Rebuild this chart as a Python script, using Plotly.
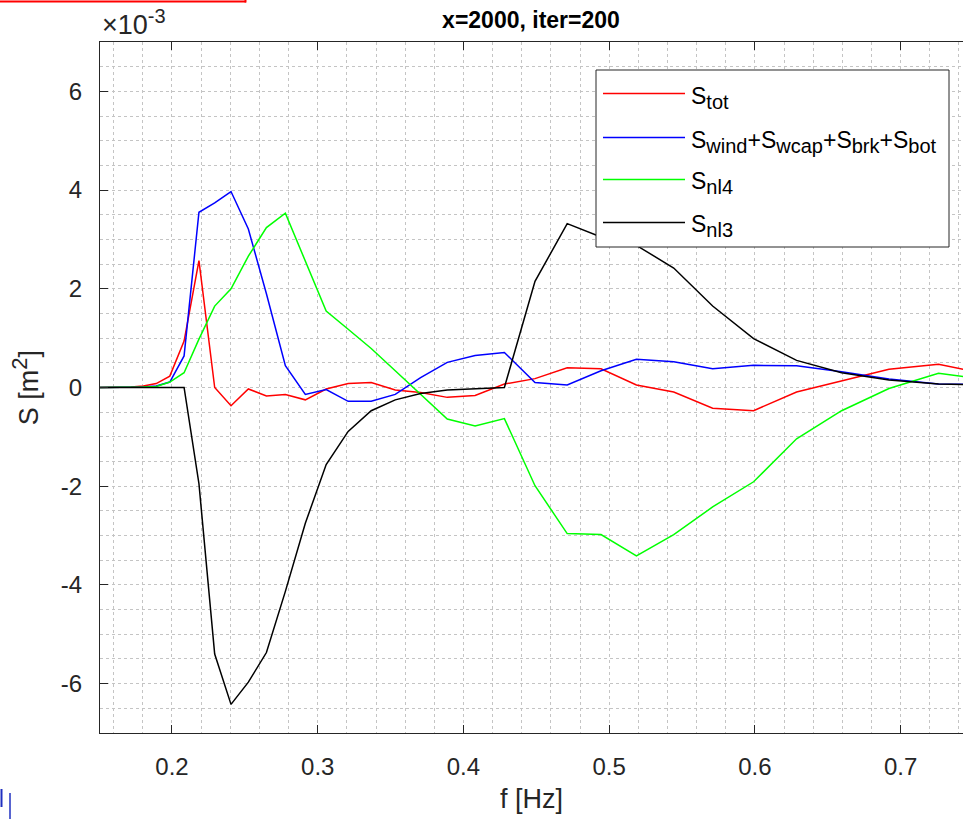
import plotly.graph_objects as go

# ---------------- data (values in units of 1e-3 m^2) ----------------
freq = [0.1488, 0.1561, 0.1638, 0.1719, 0.1803, 0.1892, 0.1985, 0.2083, 0.2185,
        0.2293, 0.2405, 0.2524, 0.2648, 0.2778, 0.2915, 0.3058, 0.3209, 0.3367,
        0.3532, 0.3706, 0.3889, 0.4080, 0.4281, 0.4491, 0.4712, 0.4944, 0.5187,
        0.5443, 0.5710, 0.5991, 0.6286, 0.6595, 0.6920, 0.7260, 0.7618]

s_tot = [0.0, 0.0, 0.0, 0.01, 0.03, 0.08, 0.23, 0.94, 2.57, 0.0, -0.37, -0.03,
         -0.17, -0.14, -0.25, -0.03, 0.08, 0.10, -0.05, -0.10, -0.20, -0.16, 0.07,
         0.18, 0.40, 0.38, 0.05, -0.09, -0.42, -0.47, -0.09, 0.13, 0.37, 0.47, 0.26]

s_src = [0.0, 0.0, 0.0, 0.0, 0.01, 0.03, 0.11, 0.64, 3.55, 3.74, 3.97, 3.21,
         1.90, 0.44, -0.14, -0.04, -0.28, -0.28, -0.14, 0.20, 0.51, 0.65, 0.71,
         0.10, 0.05, 0.34, 0.57, 0.52, 0.38, 0.45, 0.44, 0.32, 0.17, 0.07, 0.06]

s_nl4 = [0.0, 0.0, 0.0, 0.0, 0.01, 0.02, 0.11, 0.30, 0.98, 1.65, 2.00, 2.66,
         3.24, 3.53, 2.56, 1.55, 1.18, 0.79, 0.34, -0.13, -0.64, -0.78, -0.63,
         -1.99, -2.96, -2.98, -3.41, -2.98, -2.42, -1.91, -1.04, -0.47, -0.02,
         0.29, 0.15]

s_nl3 = [0.0, 0.0, 0.0, 0.0, 0.0, 0.0, 0.0, 0.0, -1.95, -5.40, -6.42, -5.97,
         -5.37, -4.13, -2.75, -1.56, -0.89, -0.47, -0.25, -0.12, -0.05, -0.02,
         0.0, 2.15, 3.32, 3.05, 2.88, 2.42, 1.65, 0.99, 0.55, 0.30, 0.15, 0.07, 0.05]

series_main = ["S", "S", "S", "S"]
series_subs = [["tot"], ["wind", "wcap", "brk", "bot"], ["nl4"], ["nl3"]]
series_colors = ["#ff0000", "#0000ff", "#00ff00", "#000000"]

x_ticks = [0.2, 0.3, 0.4, 0.5, 0.6, 0.7]
y_ticks = [-6, -4, -2, 0, 2, 4, 6]
y_scale = 1e-3

title_text = "x=2000, iter=200"
x_label = "f [Hz]"
y_label_main = "S [m"
y_label_sup = "2"

# ---------------- figure ----------------
W, H = 963, 820
L, R, T, B = 100, 0, 42, 87
FONT = "Liberation Sans, Arial, Helvetica, sans-serif"
AX = "#262626"
GRID = "#c4c4c4"


def px_x(p):
    return (p - L) / (W - L - R)


def px_y(p):
    return (H - B - p) / (H - T - B)


def sub(t, size):
    return "<sub><span style='font-size:%dpx'>%s</span></sub>" % (size, t)


def sup(t, size):
    return "<sup><span style='font-size:%dpx'>%s</span></sup>" % (size, t)


def legend_label(main, subs, size):
    return "+".join(main + sub(s, size) for s in subs)


fig = go.Figure()
for main, subs, col, vals in zip(series_main, series_subs, series_colors,
                                 [s_tot, s_src, s_nl4, s_nl3]):
    name = "+".join(main + "<sub>" + s + "</sub>" for s in subs)
    fig.add_trace(go.Scatter(
        x=freq, y=[v * y_scale for v in vals], mode="lines", name=name,
        showlegend=False, line=dict(color=col, width=1.5)))

fig.update_layout(
    width=W, height=H, autosize=False,
    margin=dict(l=L, r=R, t=T, b=B, pad=0),
    paper_bgcolor="white", plot_bgcolor="white",
    font=dict(family=FONT, color=AX, size=24),
    title=dict(text="<b>" + title_text + "</b>", x=px_x(531), xref="paper",
               xanchor="center", y=1 - 20 / H, yanchor="middle",
               font=dict(size=23, color="black")),
)

fig.update_xaxes(
    range=[0.1506, 0.7428], tickvals=x_ticks,
    ticktext=[str(v) for v in x_ticks],
    showline=True, linecolor=AX, linewidth=1, mirror="ticks",
    ticks="inside", ticklen=8, tickcolor=AX, tickwidth=1,
    showgrid=True, gridcolor=GRID, griddash="dot", gridwidth=1,
    minor=dict(dtick=0.02, tick0=0, showgrid=True, gridcolor=GRID,
               griddash="dot", gridwidth=1, ticks=""),
    zeroline=False, ticklabelstandoff=12,
    tickfont=dict(size=24, color=AX),
    title=dict(text=x_label, font=dict(size=27, color=AX), standoff=10),
)

fig.update_yaxes(
    range=[-7 * y_scale, 7 * y_scale],
    tickvals=[v * y_scale for v in y_ticks], ticktext=[str(v) for v in y_ticks],
    showline=True, linecolor=AX, linewidth=1, mirror=False,
    ticks="inside", ticklen=8, tickcolor=AX, tickwidth=1,
    showgrid=True, gridcolor=GRID, griddash="dot", gridwidth=1,
    minor=dict(dtick=0.5 * y_scale, tick0=0, showgrid=True, gridcolor=GRID,
               griddash="dot", gridwidth=1, ticks=""),
    zeroline=False, ticklabelstandoff=12,
    tickfont=dict(size=24, color=AX),
    title=dict(text=y_label_main + sup(y_label_sup, 22) + "]",
               font=dict(size=27, color=AX), standoff=14),
)

# exponent label
fig.add_annotation(text="\u00d710" + sup("-3", 20), xref="paper", yref="paper",
                   x=0, y=px_y(42), xanchor="left", yanchor="bottom",
                   showarrow=False, font=dict(size=27, color=AX))

# legend box (drawn manually, MATLAB-style long line samples)
fig.add_shape(type="rect", xref="paper", yref="paper",
              x0=px_x(596), x1=px_x(949), y0=px_y(70), y1=px_y(247),
              line=dict(color=AX, width=1), fillcolor="white", layer="above")
leg_y = [93.5, 137.5, 179.5, 222.5]
for main, subs, col, ly in zip(series_main, series_subs, series_colors, leg_y):
    fig.add_shape(type="line", xref="paper", yref="paper",
                  x0=px_x(603), x1=px_x(685), y0=px_y(ly), y1=px_y(ly),
                  line=dict(color=col, width=1.5), layer="above")
    fig.add_annotation(text=legend_label(main, subs, 20), xref="paper",
                       yref="paper", x=px_x(689), y=px_y(ly + 4),
                       xanchor="left", yanchor="middle", showarrow=False,
                       font=dict(size=23, color="black"))

# screenshot artefacts at the page edges
fig.add_shape(type="line", xref="paper", yref="paper", x0=px_x(0), x1=px_x(246),
              y0=px_y(1.5), y1=px_y(1.5), line=dict(color="#ff0000", width=2))
fig.add_shape(type="line", xref="paper", yref="paper", x0=px_x(245.5), x1=px_x(245.5),
              y0=px_y(0), y1=px_y(2.5), line=dict(color="#ff0000", width=2))
fig.add_shape(type="line", xref="paper", yref="paper", x0=px_x(1.5), x1=px_x(1.5),
              y0=px_y(789), y1=px_y(807), line=dict(color="#2030c0", width=2))
fig.add_shape(type="line", xref="paper", yref="paper", x0=px_x(10), x1=px_x(10),
              y0=px_y(793), y1=px_y(819), line=dict(color="#2030c0", width=1.5))

fig.write_html("out.html")
